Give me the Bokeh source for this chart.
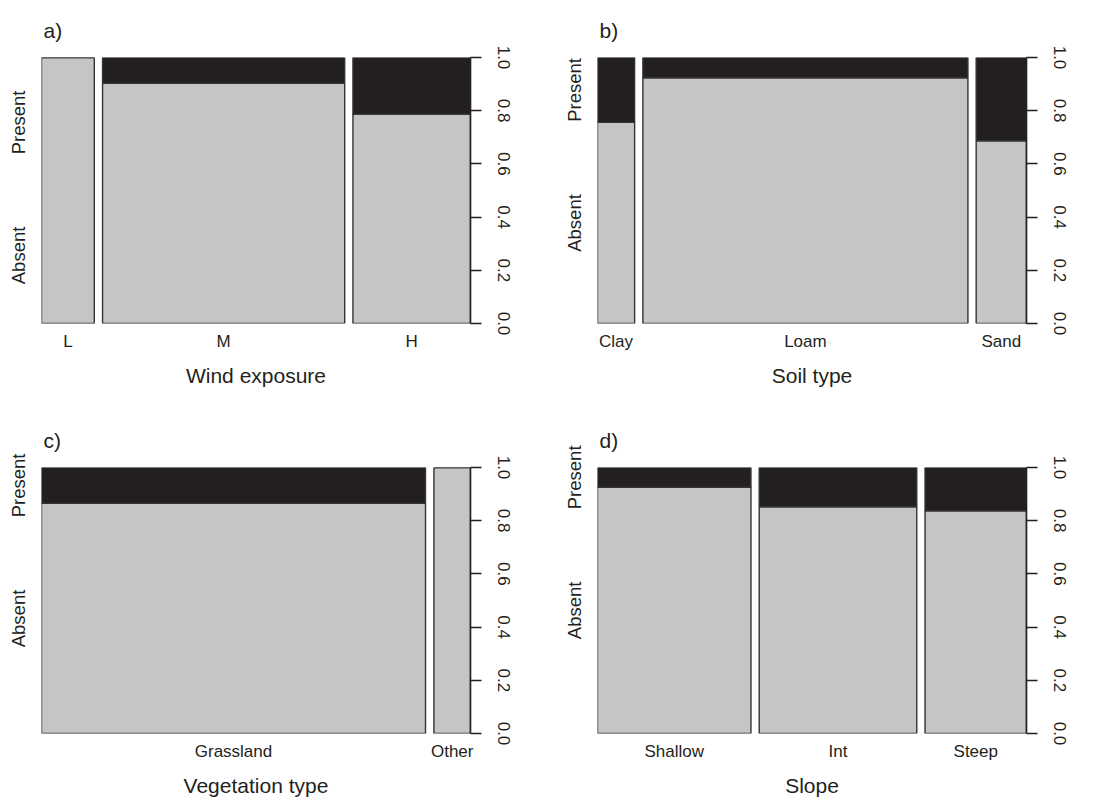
from bokeh.plotting import figure
from bokeh.layouts import gridplot
from bokeh.models import (Range1d, LinearAxis, FixedTicker,
                          PrintfTickFormatter, ColumnDataSource)
from bokeh.embed import file_html
from bokeh.resources import INLINE

# ---------------- data ----------------
panel_tags = ["a)", "b)", "c)", "d)"]
x_titles = ["Wind exposure", "Soil type", "Vegetation type", "Slope"]
y_levels = ["Absent", "Present"]
y_ticks = [0.0, 0.2, 0.4, 0.6, 0.8, 1.0]

wind_levels = ["L", "M", "H"]
wind_share = [0.128, 0.587, 0.285]      # relative bar widths (counts share)
wind_absent = [1.0, 0.903, 0.787]       # proportion Absent within level

soil_levels = ["Clay", "Loam", "Sand"]
soil_share = [0.090, 0.788, 0.122]
soil_absent = [0.756, 0.924, 0.687]

veg_levels = ["Grassland", "Other"]
veg_share = [0.913, 0.087]
veg_absent = [0.865, 1.0]

slope_levels = ["Shallow", "Int", "Steep"]
slope_share = [0.372, 0.382, 0.246]
slope_absent = [0.926, 0.852, 0.837]

# proportion used to place the Absent / Present side labels in each panel
y_label_ref = [0.512, 0.756, 0.865, 0.926]

GAP = 0.02
FONT = "Liberation Sans"
GREY = "#c5c5c7"
DARK = "#231f20"
EDGE = "#333333"
TXT = "#231f20"


def spine_panel(tag, title, levels, share, absent, yref,
                bottom_border, right_border):
    lefts = []
    pos = 0.0
    for s in share:
        lefts.append(pos)
        pos += s + GAP
    total = pos - GAP
    rights = [l + s for l, s in zip(lefts, share)]
    centers = [l + s / 2.0 for l, s in zip(lefts, share)]

    p = figure(frame_width=429, frame_height=266,
               x_range=Range1d(0, total), y_range=Range1d(0, 1),
               min_border_left=41, min_border_right=right_border,
               min_border_top=57, min_border_bottom=bottom_border,
               output_backend="svg", toolbar_location=None,
               x_axis_location=None, y_axis_location=None,
               title=tag)
    p.grid.visible = False
    p.outline_line_color = None
    p.background_fill_color = "white"
    p.border_fill_color = "white"

    p.title.text_font = FONT
    p.title.text_font_size = "21px"
    p.title.text_font_style = "normal"
    p.title.text_color = TXT
    p.title.align = "left"
    p.title.offset = 2
    p.title.standoff = 32

    src = ColumnDataSource(dict(left=lefts, right=rights, absent=absent))
    p.quad(left="left", right="right", bottom=0, top="absent", source=src,
           fill_color=GREY, line_color=EDGE, line_width=1.4)
    p.quad(left="left", right="right", bottom="absent", top=1, source=src,
           fill_color=DARK, line_color=EDGE, line_width=1.4)

    # bottom: category labels + variable title
    xb = LinearAxis(ticker=FixedTicker(ticks=centers),
                    major_label_overrides={c: lab for c, lab in zip(centers, levels)},
                    axis_label=title)
    xb.axis_line_color = None
    xb.major_tick_line_color = None
    xb.minor_tick_line_color = None
    xb.major_tick_out = 0
    xb.major_tick_in = 0
    xb.major_label_standoff = 8
    xb.major_label_text_font = FONT
    xb.major_label_text_font_size = "17px"
    xb.major_label_text_color = TXT
    xb.axis_label_standoff = 10
    xb.axis_label_text_font = FONT
    xb.axis_label_text_font_size = "21px"
    xb.axis_label_text_font_style = "normal"
    xb.axis_label_text_color = TXT
    p.add_layout(xb, "below")

    # left: Absent / Present
    ya = [yref / 2.0, (1.0 + yref) / 2.0]
    yl = LinearAxis(ticker=FixedTicker(ticks=ya),
                    major_label_overrides={v: lab for v, lab in zip(ya, y_levels)},
                    major_label_orientation="vertical")
    yl.axis_line_color = None
    yl.major_tick_line_color = None
    yl.minor_tick_line_color = None
    yl.major_tick_out = 0
    yl.major_tick_in = 0
    yl.major_label_standoff = 12
    yl.major_label_text_font = FONT
    yl.major_label_text_font_size = "18.5px"
    yl.major_label_text_color = TXT
    p.add_layout(yl, "left")

    # right: proportion axis
    yr = LinearAxis(ticker=FixedTicker(ticks=y_ticks),
                    formatter=PrintfTickFormatter(format="%.1f"),
                    major_label_orientation="vertical")
    yr.axis_line_color = TXT
    yr.axis_line_width = 1.6
    yr.major_tick_line_color = TXT
    yr.major_tick_line_width = 1.3
    yr.major_tick_out = 11
    yr.major_tick_in = 0
    yr.minor_tick_line_color = None
    yr.major_label_standoff = 16
    yr.major_label_text_font = FONT
    yr.major_label_text_font_size = "17px"
    yr.major_label_text_color = TXT
    p.add_layout(yr, "right")
    return p


pa = spine_panel(panel_tags[0], x_titles[0], wind_levels, wind_share, wind_absent,
                 y_label_ref[0], 87, 86)
pb = spine_panel(panel_tags[1], x_titles[1], soil_levels, soil_share, soil_absent,
                 y_label_ref[1], 87, 64)
pc = spine_panel(panel_tags[2], x_titles[2], veg_levels, veg_share, veg_absent,
                 y_label_ref[2], 58, 86)
pd = spine_panel(panel_tags[3], x_titles[3], slope_levels, slope_share, slope_absent,
                 y_label_ref[3], 58, 64)

grid = gridplot([[pa, pb], [pc, pd]], toolbar_location=None)

open("out.html", "w").write(file_html(grid, INLINE))
